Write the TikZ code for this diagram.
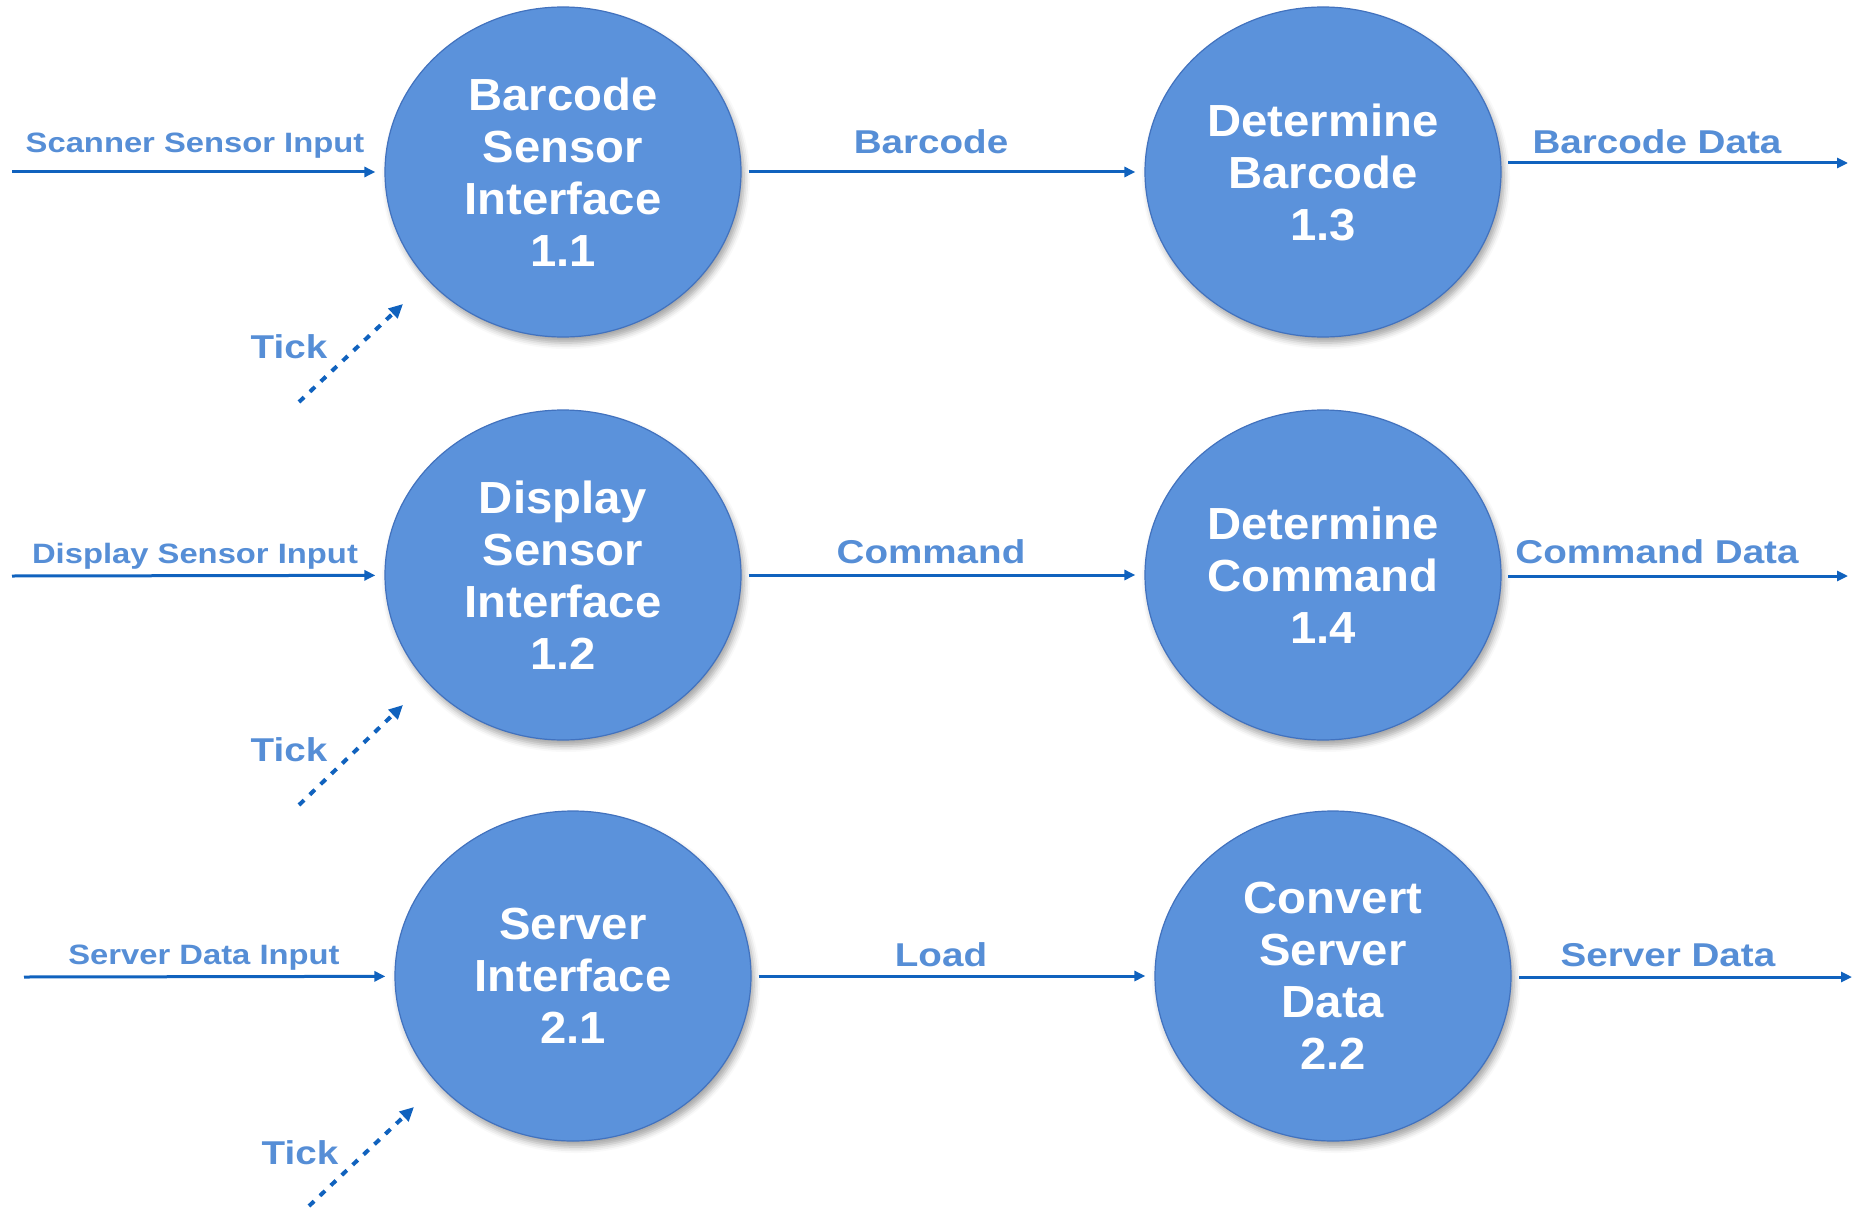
\documentclass[tikz,border=0pt]{standalone}
\usepackage{fontspec}
\setmainfont{Liberation Sans}
\newfontfamily\procfont{Liberation Sans}[FakeStretch=1.05]
\newfontfamily\flowfont{Liberation Sans}[FakeStretch=1.17]
\usetikzlibrary{arrows.meta,shapes.geometric,shadows.blur}

\definecolor{procfill}{RGB}{91,146,219}
\definecolor{procedge}{RGB}{66,114,190}
\definecolor{flowline}{RGB}{16,98,190}
\definecolor{flowtext}{RGB}{86,142,214}

\tikzset{
  proc/.style={ellipse, minimum width=356pt, minimum height=330pt, inner sep=0pt,
    fill=procfill, draw=procedge, line width=1.2pt, text=white, align=center,
    font=\procfont\bfseries\fontsize{45}{52}\selectfont,
    blur shadow={shadow xshift=3pt, shadow yshift=-6pt, shadow blur radius=6pt, shadow opacity=35}},
  flow/.style={draw=flowline, line width=3pt, -{Triangle[length=11pt,width=10pt]}},
  tickflow/.style={draw=flowline, line width=4pt, dash pattern=on 7pt off 8pt,
    -{Triangle[length=14pt,width=13pt]}},
  biglabel/.style={anchor=base, text=flowtext, inner sep=0pt,
    font=\flowfont\bfseries\fontsize{33}{39}\selectfont},
  smalllabel/.style={anchor=base, text=flowtext, inner sep=0pt,
    font=\flowfont\bfseries\fontsize{28}{34}\selectfont},
}

\begin{document}
\begin{tikzpicture}[x=1pt,y=-1pt]
\path[use as bounding box] (0,0) rectangle (1852,1209);

% processes
\node[proc] (p11) at (563,172) {Barcode\\Sensor\\Interface\\1.1};
\node[proc] (p13) at (1323,172) {Determine\\Barcode\\1.3};
\node[proc] (p12) at (563,575) {Display\\Sensor\\Interface\\1.2};
\node[proc] (p14) at (1323,575) {Determine\\Command\\1.4};
\node[proc] (p21) at (573,976) {Server\\Interface\\2.1};
\node[proc] (p22) at (1333,976) {Convert\\Server\\Data\\2.2};

% free ends of the flows
\coordinate (in11) at (12,172);
\coordinate (in12) at (12,576);
\coordinate (in21) at (24,977);
\coordinate (out13a) at (1508,163);
\coordinate (out13b) at (1848,163);
\coordinate (out14a) at (1508,576);
\coordinate (out14b) at (1848,576);
\coordinate (out22a) at (1519,977);
\coordinate (out22b) at (1852,977);
\coordinate (tick11a) at (299,402);
\coordinate (tick11b) at (403,304);
\coordinate (tick12a) at (299,805);
\coordinate (tick12b) at (403,705);
\coordinate (tick21a) at (309,1206);
\coordinate (tick21b) at (414,1107);

% row 1
\draw[flow, shorten >=9pt] (in11) -- (p11);
\draw[flow, shorten <=7pt, shorten >=9pt] (p11) -- (p13);
\draw[flow] (out13a) -- (out13b);
\draw[tickflow] (tick11a) -- (tick11b);
\node[smalllabel] (l11) at (195,153) {Scanner Sensor Input};
\node[biglabel] (l13) at (931,154) {Barcode};
\node[biglabel] (lo13) at (1657,154) {Barcode Data};
\node[biglabel] (t11) at (289,358) {Tick};

% row 2
\draw[flow, shorten >=9pt] (in12) -- (p12);
\draw[flow, shorten <=7pt, shorten >=9pt] (p12) -- (p14);
\draw[flow] (out14a) -- (out14b);
\draw[tickflow] (tick12a) -- (tick12b);
\node[smalllabel] (l12) at (195,563) {Display Sensor Input};
\node[biglabel] (l14) at (931,563) {Command};
\node[biglabel] (lo14) at (1657,563) {Command Data};
\node[biglabel] (t12) at (289,761) {Tick};

% row 3
\draw[flow, shorten >=9pt] (in21) -- (p21);
\draw[flow, shorten <=7pt, shorten >=9pt] (p21) -- (p22);
\draw[flow] (out22a) -- (out22b);
\draw[tickflow] (tick21a) -- (tick21b);
\node[smalllabel] (l21) at (204,964) {Server Data Input};
\node[biglabel] (l22) at (941,966) {Load};
\node[biglabel] (lo22) at (1668,966) {Server Data};
\node[biglabel] (t21) at (300,1164) {Tick};
\end{tikzpicture}
\end{document}
